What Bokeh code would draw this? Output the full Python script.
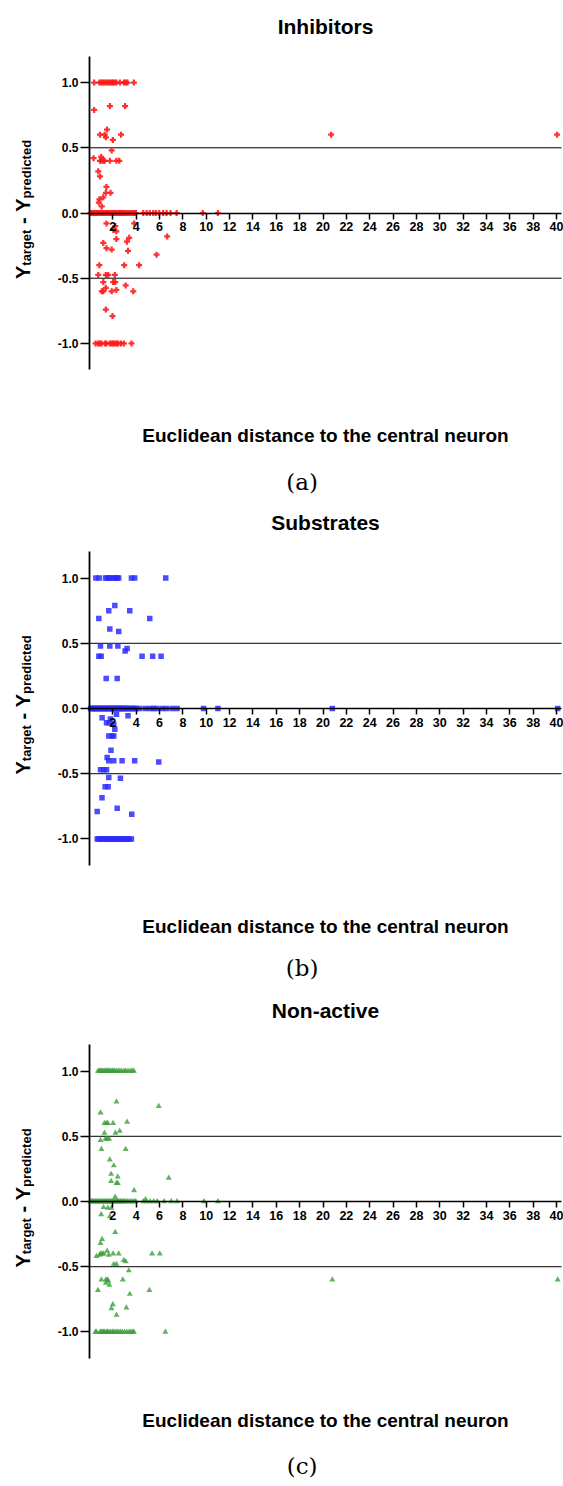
import math
from bokeh.plotting import figure
from bokeh.models import Range1d, FixedTicker, PrintfTickFormatter, Label
from bokeh.layouts import column
from bokeh.embed import file_html
from bokeh.resources import INLINE

FONT = "Liberation Sans"

# ---------------- data ----------------
x_ticks = [2, 4, 6, 8, 10, 12, 14, 16, 18, 20, 22, 24, 26, 28, 30, 32, 34, 36, 38, 40]
y_ticks = [-1.0, -0.5, 0.0, 0.5, 1.0]
ref_levels = [0.5, -0.5]
titles = ["Inhibitors", "Substrates", "Non-active"]
captions = ["(a)", "(b)", "(c)"]
x_label = "Euclidean distance to the central neuron"

# Inhibitors
inh_top_x = [0.4, 0.85, 1.0, 1.15, 1.3, 1.45, 1.6, 1.75, 1.9, 2.0, 2.15, 2.3, 2.6, 2.95, 3.1, 3.25, 3.8]
inh_zero_x = [0.08, 0.17, 0.26, 0.35, 0.44, 0.52, 0.63, 0.71, 0.8, 0.92, 1.01, 1.12, 1.2, 1.31, 1.42, 1.5,
              1.61, 1.7, 1.79, 1.9, 2.01, 2.1, 2.22, 2.3, 2.41, 2.52, 2.6, 2.71, 2.83, 2.92, 3.03, 3.15,
              3.3, 3.44, 3.58, 3.72, 3.86, 3.98, 4.6, 4.9, 5.17, 5.46, 5.69, 5.97, 6.31, 6.6, 6.94, 7.46,
              9.7, 11.0]
inh_bot_x = [0.52, 0.75, 0.89, 1.03, 1.32, 1.46, 1.75, 1.9, 2.03, 2.17, 2.32, 2.46, 2.7, 2.95, 3.6]
inh_mid_x = [0.4, 1.75, 3.05, 0.9, 1.3, 1.5, 1.4, 2.7, 2.0, 1.9, 0.35, 0.9, 1.05, 1.2, 1.3, 1.75, 2.3,
             2.55, 1.0, 0.75, 0.9, 1.45, 1.4, 1.8, 0.85, 0.8, 1.18, 1.05, 20.7, 40.05,
             1.45, 2.2, 2.05, 2.3, 3.83, 2.3, 3.4, 1.18, 3.2, 1.45, 1.9, 3.3, 6.65, 5.74, 0.84, 2.97,
             4.25, 0.75, 1.4, 1.6, 2.17, 1.18, 2.03, 2.2, 3.1, 1.4, 1.05, 1.18, 1.9, 2.3, 3.75, 1.4, 1.97]
inh_mid_y = [0.79, 0.82, 0.82, 0.6, 0.6, 0.64, 0.58, 0.6, 0.56, 0.48, 0.42, 0.4, 0.4, 0.4, 0.4, 0.4, 0.4,
             0.4, 0.43, 0.32, 0.28, 0.2, 0.155, 0.155, 0.105, 0.08, 0.12, 0.05, 0.6, 0.6,
             -0.08, -0.1, -0.13, -0.14, -0.08, -0.2, -0.19, -0.23, -0.22, -0.27, -0.28, -0.29, -0.18,
             -0.32, -0.4, -0.4, -0.4, -0.475, -0.475, -0.475, -0.475, -0.53, -0.53, -0.53, -0.555,
             -0.575, -0.6, -0.6, -0.6, -0.59, -0.6, -0.74, -0.79]

# Substrates
sub_top_x = [0.55, 0.83, 1.37, 1.54, 1.66, 1.79, 2.08, 2.22, 2.37, 2.5, 3.59, 3.87, 6.53]
sub_zero_x = [0.1, 0.19, 0.27, 0.36, 0.45, 0.55, 0.64, 0.73, 0.82, 0.9, 1.0, 1.09, 1.18, 1.27, 1.37,
              1.46, 1.55, 1.64, 1.73, 1.82, 1.91, 2.0, 2.1, 2.19, 2.28, 2.37, 2.46, 2.55, 2.64, 2.74,
              2.83, 2.92, 3.02, 3.12, 3.25, 3.38, 3.5, 3.63, 3.76, 3.88, 4.0, 4.3, 4.79, 5.21, 5.5,
              5.73, 6.21, 6.58, 7.07, 7.5, 9.77, 11.0, 20.8, 40.1]
sub_bot_x = [0.66, 0.8, 0.94, 1.08, 1.22, 1.37, 1.51, 1.65, 1.79, 1.94, 2.08, 2.22, 2.37, 2.5, 2.65,
             2.8, 2.93, 3.1, 3.25, 3.4, 3.59]
sub_mid_x = [0.8, 1.65, 2.17, 3.45, 5.16, 1.74, 2.5, 0.94, 1.74, 2.43, 3.05, 3.22, 0.8, 1.0, 4.5, 5.41,
             6.13, 1.43, 2.37,
             1.08, 1.46, 1.79, 1.7, 2.08, 2.31, 3.3, 1.65, 1.93, 2.08, 2.17, 1.84, 1.51, 1.65, 2.08,
             2.79, 3.87, 5.93, 0.94, 1.22, 1.46, 1.65, 2.65, 1.34, 1.6, 1.07, 2.37, 0.66, 3.62]
sub_mid_y = [0.69, 0.75, 0.79, 0.75, 0.69, 0.61, 0.59, 0.48, 0.48, 0.48, 0.44, 0.46, 0.4, 0.4, 0.4, 0.4,
             0.4, 0.23, 0.23,
             -0.07, -0.11, -0.08, -0.11, -0.12, -0.045, -0.055, -0.21, -0.21, -0.21, -0.16, -0.32,
             -0.375, -0.4, -0.4, -0.4, -0.4, -0.41, -0.47, -0.47, -0.47, -0.53, -0.535, -0.6, -0.6,
             -0.685, -0.765, -0.79, -0.81]

# Non-active
non_top_x = [0.73, 0.85, 0.95, 1.05, 1.15, 1.25, 1.35, 1.45, 1.55, 1.65, 1.75, 1.85, 1.95, 2.05, 2.15,
             2.3, 2.45, 2.6, 2.75, 2.95, 3.1, 3.3, 3.5, 3.65, 3.8]
non_zero_x = [0.09, 0.18, 0.28, 0.37, 0.46, 0.54, 0.63, 0.72, 0.81, 0.9, 0.99, 1.08, 1.17, 1.26, 1.35,
              1.44, 1.53, 1.62, 1.71, 1.8, 1.89, 1.98, 2.07, 2.16, 2.25, 2.34, 2.43, 2.52, 2.62, 2.71,
              2.8, 2.9, 3.0, 3.12, 3.25, 3.4, 3.55, 3.7, 3.85, 3.97, 4.6, 4.9, 5.2, 5.5, 5.8, 6.4, 7.0,
              7.5, 9.8, 11.0]
non_bot_x = [0.5, 0.6, 0.9, 1.0, 1.1, 1.2, 1.3, 1.45, 1.55, 1.65, 1.8, 1.95, 2.05, 2.2, 2.35, 2.5, 2.65,
             2.8, 3.0, 3.2, 3.4, 3.55, 3.7, 3.8, 6.5]
non_mid_x = [2.31, 5.93, 0.94, 2.02, 1.28, 1.45, 1.57, 3.22, 2.59, 2.22, 1.28, 0.94, 1.37, 1.51, 1.68,
             1.02, 3.1, 1.74, 2.08, 1.85, 2.42, 6.79, 1.85, 2.31, 2.42, 3.82, 2.2, 4.8,
             1.2, 1.0, 1.57, 1.74, 1.88, 2.2, 0.94, 1.08, 0.6, 0.87, 0.94, 1.08, 1.22, 1.51, 1.65, 2.02,
             2.5, 2.08, 2.31, 2.93, 3.1, 5.36, 6.02, 3.37, 1.02, 1.4, 1.54, 1.6, 1.4, 1.7, 2.85, 0.72,
             5.13, 3.45, 2.0, 1.88, 3.16, 2.31, 20.8, 40.1]
non_mid_y = [0.765, 0.73, 0.68, 0.6, 0.6, 0.6, 0.6, 0.61, 0.54, 0.525, 0.525, 0.47, 0.48, 0.48, 0.48,
             0.4, 0.4, 0.32, 0.275, 0.21, 0.19, 0.18, 0.155, 0.14, 0.14, 0.085, 0.035, 0.015,
             -0.045, -0.1, -0.05, -0.115, -0.05, -0.235, -0.32, -0.29, -0.42, -0.41, -0.4, -0.4, -0.4,
             -0.38, -0.41, -0.4, -0.4, -0.48, -0.48, -0.45, -0.46, -0.4, -0.4, -0.53, -0.6, -0.6,
             -0.6, -0.61, -0.625, -0.64, -0.6, -0.68, -0.68, -0.71, -0.79, -0.82, -0.815, -0.87,
             -0.6, -0.6]


def series(top_x, zero_x, bot_x, mid_x, mid_y):
    xs = list(top_x) + list(zero_x) + list(bot_x) + list(mid_x)
    ys = [1.0] * len(top_x) + [0.0] * len(zero_x) + [-1.0] * len(bot_x) + list(mid_y)
    return xs, ys


W = 563
PX_X = 11.675      # pixels per x unit
X0 = 89            # canvas x of x = 0
PX_Y = 130.42      # pixels per y unit
X_END = 40.43      # end of drawn x axis
Y_LIM = 1.2        # extent of drawn y axis
YLAB_X = 22        # canvas x of the y label baseline


def make_panel(title, caption, xs, ys, marker, color, size, alpha,
               height, zero_y, title_dy, xlabel_dy, cap_dy):
    x_range = Range1d(-X0 / PX_X, (W - X0) / PX_X)
    y_range = Range1d(-(height - zero_y) / PX_Y, zero_y / PX_Y)
    p = figure(width=W, height=height, output_backend="svg", toolbar_location=None,
               x_range=x_range, y_range=y_range, min_border=0,
               min_border_left=0, min_border_right=0, min_border_top=0, min_border_bottom=0)
    p.outline_line_color = None
    p.grid.visible = False
    p.background_fill_color = "white"
    p.border_fill_color = "white"

    xa = p.xaxis[0]
    xa.fixed_location = 0
    xa.bounds = (0, X_END)
    xa.ticker = FixedTicker(ticks=x_ticks)
    xa.minor_tick_line_color = None
    xa.major_tick_in = 0
    xa.major_tick_out = 6
    xa.axis_line_width = 1.5
    xa.major_tick_line_width = 1.5
    xa.major_label_standoff = 3
    xa.major_label_text_font = FONT
    xa.major_label_text_font_style = "bold"
    xa.major_label_text_font_size = "12.5px"
    xa.major_label_text_color = "black"

    ya = p.yaxis[0]
    ya.fixed_location = 0
    ya.bounds = (-Y_LIM, Y_LIM)
    ya.ticker = FixedTicker(ticks=y_ticks)
    ya.formatter = PrintfTickFormatter(format="%.1f")
    ya.minor_tick_line_color = None
    ya.major_tick_in = 0
    ya.major_tick_out = 9
    ya.axis_line_width = 1.8
    ya.major_tick_line_width = 1.5
    ya.major_label_standoff = 2
    ya.major_label_text_font = FONT
    ya.major_label_text_font_style = "bold"
    ya.major_label_text_font_size = "12px"
    ya.major_label_text_color = "black"

    # horizontal reference lines at +/-0.5
    p.segment(x0=[0] * len(ref_levels), y0=ref_levels, x1=[X_END] * len(ref_levels), y1=ref_levels,
              line_color="black", line_width=1)

    p.scatter(xs, ys, marker=marker, size=size, fill_color=color, fill_alpha=alpha,
              line_color=None)

    xc = (X_END / 2)
    p.add_layout(Label(x=xc, y=Y_LIM, y_offset=title_dy, text=title, text_align="center",
                       text_baseline="middle", text_font=FONT, text_font_style="bold",
                       text_font_size="21px", text_color="black"))
    p.add_layout(Label(x=xc, y=-Y_LIM, y_offset=xlabel_dy, text=x_label, text_align="center",
                       text_baseline="middle", text_font=FONT, text_font_style="bold",
                       text_font_size="19px", text_color="black"))
    p.add_layout(Label(x=xc - 2.0, y=-Y_LIM, y_offset=cap_dy, text=caption, text_align="center",
                       text_baseline="middle", text_font="DejaVu Serif",
                       text_font_size="23px", text_color="black"))

    # y label: Y_target - Y_predicted (rotated), built from pieces
    s = -66
    pieces = [("Y", "20px", 0, s), ("target", "13px", 4, s + 13.3), ("-", "20px", 0, s + 55),
              ("Y", "20px", 0, s + 67.3), ("predicted", "13px", 4, s + 80.6)]
    for txt, fs, dx, dy in pieces:
        p.add_layout(Label(x=-(X0 - YLAB_X) / PX_X, y=0, x_offset=dx, y_offset=dy, text=txt,
                           angle=math.pi / 2, text_align="left", text_baseline="alphabetic",
                           text_font=FONT, text_font_style="bold", text_font_size=fs,
                           text_color="black"))
    return p


ix, iy = series(inh_top_x, inh_zero_x, inh_bot_x, inh_mid_x, inh_mid_y)
sx, sy = series(sub_top_x, sub_zero_x, sub_bot_x, sub_mid_x, sub_mid_y)
nx, ny = series(non_top_x, non_zero_x, non_bot_x, non_mid_x, non_mid_y)

pa = make_panel(titles[0], captions[0], ix, iy, "plus", "#ff1a1a", 6, 0.9,
                496, 212.5, 29.5, -66, -112)
pb = make_panel(titles[1], captions[1], sx, sy, "square", "#2b2bff", 5.5, 0.85,
                494, 212, 29, -61, -103)
pc = make_panel(titles[2], captions[2], nx, ny, "triangle", "#3a9f3a", 6, 0.8,
                494, 211, 34, -62, -108)

layout = column(pa, pb, pc)
open("out.html", "w").write(file_html(layout, INLINE))
